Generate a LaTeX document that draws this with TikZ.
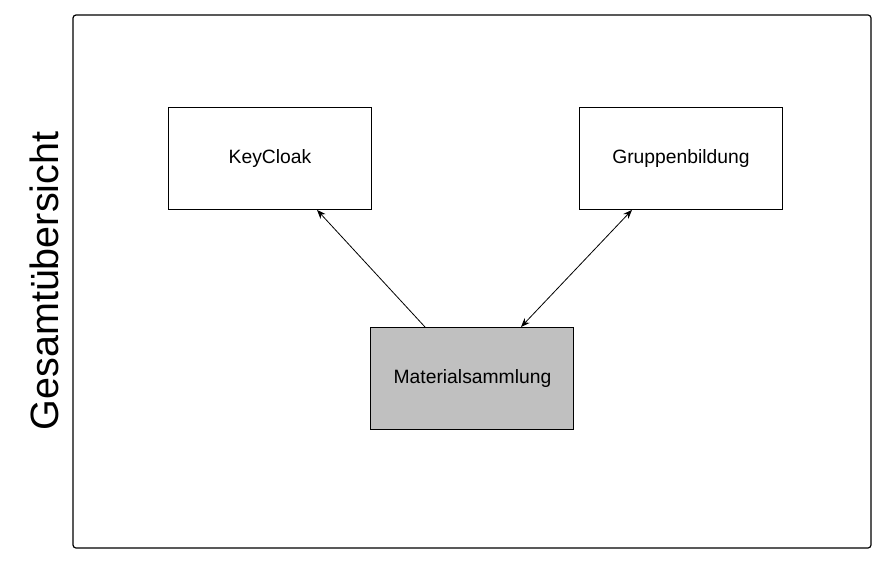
\documentclass[tikz,border=0pt]{standalone}
\usepackage{fontspec}
\setmainfont{Liberation Sans}
\usetikzlibrary{arrows.meta}
\begin{document}
\begin{tikzpicture}[x=1pt,y=-1pt,
  box/.style={draw=black, line width=0.9pt, minimum width=203pt, minimum height=102pt, inner sep=0pt, anchor=north west, font=\fontsize{19.3}{23}\selectfont},
  conn/.style={line width=0.8pt, -{Stealth[length=9pt,width=7pt]}},
  frame/.style={draw=black, line width=1.2pt, rounded corners=3pt}]
\useasboundingbox (0,0) rectangle (886,564);
\draw[frame] (73,15) rectangle (871,548);
\node[rotate=90, font=\fontsize{39.5}{44}\selectfont] (title) at (44,281) {Gesamtübersicht};
\node[box] (kc) at (168,107) {KeyCloak};
\node[box] (gb) at (579,107) {Gruppenbildung};
\node[box, fill={rgb,255:red,192;green,192;blue,192}] (ms) at (370,327) {\hspace*{1pt}Materialsammlung};
\coordinate (a1) at ([xshift=55pt]ms.north west);
\coordinate (a2) at ([xshift=149pt]kc.south west);
\coordinate (b1) at ([xshift=151pt]ms.north west);
\coordinate (b2) at ([xshift=53pt]gb.south west);
\draw[conn] (a1) -- (a2);
\draw[conn, {Stealth[length=9pt,width=7pt]}-{Stealth[length=9pt,width=7pt]}] (b1) -- (b2);
\end{tikzpicture}
\end{document}
